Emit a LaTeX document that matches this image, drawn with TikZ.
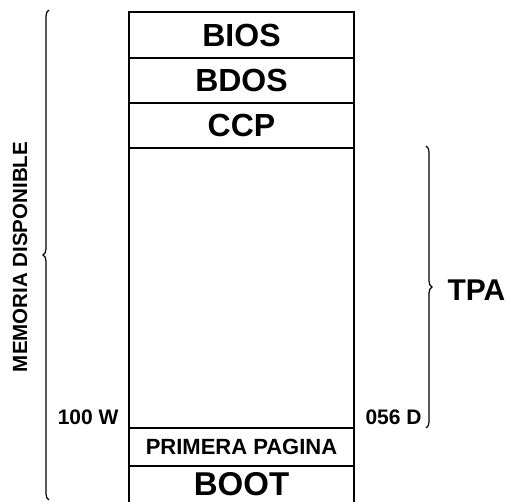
\documentclass[tikz,border=0pt]{standalone}
\usepackage{fontspec}
\setmainfont{Liberation Sans}
\usepackage{tikz}
\usetikzlibrary{positioning, decorations.pathreplacing}

\begin{document}
\begin{tikzpicture}[x=1pt, y=-1pt,
    bloque/.style={rectangle, draw, line width=1.6pt, outer sep=0pt, inner sep=0pt,
                   minimum width=225pt, font=\fontsize{32}{32}\selectfont\bfseries},
    etiqueta/.style={font=\fontsize{21}{21}\selectfont\bfseries},
    llave/.style={decorate, decoration={brace, amplitude=6pt}, line width=1.2pt},
]
\useasboundingbox (0,0) rectangle (509,502);

% Memory column
\node[bloque, minimum height=46pt, anchor=north west] (bios) at (129,12) {BIOS};
\node[bloque, minimum height=45pt, below=0pt of bios] (bdos) {BDOS};
\node[bloque, minimum height=45pt, below=0pt of bdos] (ccp) {CCP};
\node[bloque, minimum height=280pt, below=0pt of ccp] (libre) {};
\node[bloque, minimum height=38pt, below=0pt of libre, font=\fontsize{22}{22}\selectfont\bfseries] (primera) {PRIMERA PAGINA};
\node[bloque, draw=none, minimum height=36pt, below=0pt of primera, font=\fontsize{33}{33}\selectfont\bfseries] (boot) {BOOT};
\draw[line width=1.6pt] (boot.north west) -- (boot.south west);
\draw[line width=1.6pt] (boot.north east) -- (boot.south east);

% Addresses
\node[etiqueta, anchor=base east] (dirini) at ([shift={(-7,-3)}]libre.south west) {100 W};
\node[etiqueta, anchor=base west] (dirfin) at ([shift={(8,-3)}]libre.south east) {056 D};

% Left brace
\coordinate (memabajo) at (49,500);
\coordinate (memarriba) at (49,10);
\draw[llave] (memabajo) -- (memarriba);
\node[font=\fontsize{20.5}{20.5}\selectfont\bfseries, rotate=90] (memoria) at (20,257) {MEMORIA DISPONIBLE};

% Right brace
\coordinate (tpaarriba) at (426,146);
\coordinate (tpaabajo) at (426,428);
\draw[llave] (tpaarriba) -- (tpaabajo);
\node[font=\fontsize{30}{30}\selectfont\bfseries, anchor=west] (tpa) at (444,290) {TPA};
\end{tikzpicture}
\end{document}
